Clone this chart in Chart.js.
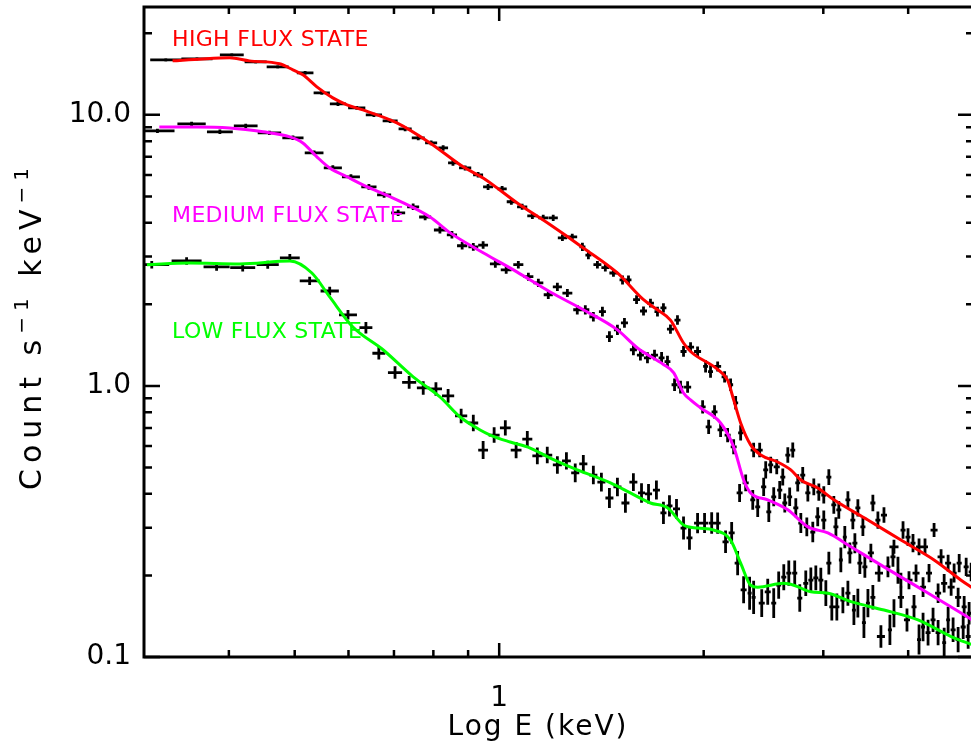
<!DOCTYPE html>
<html>
<head>
<meta charset="utf-8">
<style>
html, body { margin: 0; padding: 0; background: #fff; overflow: hidden; }
canvas { display: block; }
</style>
</head>
<body>
<canvas id="spec" width="978" height="749"></canvas>
<script src="https://cdn.jsdelivr.net/npm/chart.js"></script>
<script>
// data points (keV, count/s/keV)
const highE = [0.323,0.359,0.404,0.438,0.472,0.518,0.548,0.579,0.617,0.654,0.691,0.727,0.760,0.794,0.827,0.855,0.891,0.931,0.963,1.010,1.042,1.081,1.119,1.161,1.201,1.239,1.281,1.326,1.353,1.395,1.433,1.473,1.519,1.550,1.593,1.631,1.670,1.710,1.745,1.787,1.830,1.868,1.913,1.959,2.013,2.047,2.097,2.147,2.191,2.229,2.267,2.369,2.418,2.468,2.510,2.562,2.615,2.660,2.705,2.751,2.798,2.847,2.905,2.955,3.005,3.057,3.109,3.162,3.261,3.316,3.373,3.431,3.549,3.610,3.685,3.812,3.931,3.998,4.066,4.150,4.235,4.367,4.472,4.580,4.674,4.755,4.869,4.952];
const highC = [15.96,16.09,16.65,15.69,15.04,14.29,12.06,10.98,10.61,10.0,9.50,8.88,8.23,7.88,7.55,6.65,6.37,6.01,5.42,5.33,4.78,4.58,4.24,4.17,4.17,3.52,3.55,3.26,3.04,2.80,2.73,2.61,2.46,2.46,2.08,1.89,2.02,1.88,1.94,1.62,1.75,1.34,1.39,1.34,1.18,1.13,1.18,1.08,1.01,0.866,0.671,0.580,0.580,0.490,0.511,0.503,0.461,0.556,0.580,0.439,0.469,0.403,0.424,0.406,0.396,0.461,0.364,0.349,0.380,0.320,0.355,0.302,0.370,0.320,0.334,0.255,0.294,0.277,0.263,0.255,0.255,0.294,0.234,0.222,0.204,0.222,0.215,0.206];

const medE = [0.314,0.3525,0.388,0.4235,0.459,0.497,0.534,0.569,0.605,0.643,0.677,0.710,0.747,0.778,0.818,0.852,0.882,0.916,0.947,0.987,1.024,1.067,1.104,1.142,1.181,1.218,1.260,1.303,1.339,1.376,1.419,1.453,1.493,1.529,1.576,1.614,1.653,1.693,1.734,1.769,1.812,1.849,1.894,1.993,2.034,2.075,2.118,2.169,2.214,2.259,2.306,2.362,2.402,2.451,2.494,2.536,2.588,2.633,2.677,2.733,2.780,2.837,2.895,2.944,3.005,3.057,3.131,3.184,3.227,3.283,3.339,3.396,3.454,3.525,3.623,3.735,3.799,3.864,3.903,4.011,4.108,4.207,4.293,4.427,4.519,4.627,4.738,4.836,4.918];
const medC = [8.73,9.26,8.66,9.11,8.58,8.23,7.24,6.37,5.91,5.42,5.07,4.35,4.58,4.20,3.76,3.61,3.29,3.26,3.31,2.82,2.68,2.80,2.53,2.40,2.17,2.32,2.20,1.91,1.91,1.80,1.88,1.52,1.61,1.71,1.36,1.30,1.27,1.30,1.27,1.23,1.01,0.99,0.99,0.837,0.706,0.802,0.688,0.659,0.596,0.403,0.439,0.380,0.358,0.424,0.343,0.390,0.413,0.370,0.390,0.355,0.312,0.302,0.289,0.329,0.320,0.222,0.302,0.228,0.277,0.242,0.263,0.222,0.215,0.242,0.204,0.215,0.234,0.209,0.181,0.192,0.204,0.181,0.204,0.172,0.187,0.181,0.166,0.153,0.145];

const lowE = [0.308,0.3466,0.3837,0.4192,0.4563,0.4918,0.526,0.563,0.599,0.6365,0.665,0.7025,0.737,0.773,0.807,0.841,0.879,0.916,0.947,0.983,1.021,1.059,1.100,1.138,1.177,1.218,1.256,1.294,1.330,1.376,1.414,1.453,1.493,1.534,1.576,1.620,1.659,1.704,1.745,1.781,1.824,1.868,1.906,1.959,2.006,2.055,2.097,2.154,2.199,2.244,2.290,2.337,2.369,2.435,2.485,2.536,2.579,2.624,2.669,2.723,2.770,2.827,2.876,2.925,2.975,3.026,3.088,3.141,3.206,3.261,3.328,3.373,3.443,3.490,3.549,3.647,3.760,3.812,3.903,3.984,4.080,4.150,4.207,4.279,4.352,4.427,4.519,4.580,4.658,4.738,4.820,4.902];
const lowC = [2.80,2.89,2.75,2.73,2.80,2.97,2.44,2.24,1.83,1.64,1.32,1.12,1.03,0.983,0.975,0.919,0.775,0.730,0.580,0.659,0.700,0.580,0.637,0.552,0.556,0.511,0.529,0.478,0.516,0.469,0.442,0.386,0.424,0.370,0.442,0.403,0.400,0.413,0.340,0.361,0.352,0.299,0.275,0.312,0.312,0.312,0.312,0.266,0.287,0.222,0.177,0.172,0.166,0.158,0.174,0.158,0.184,0.197,0.204,0.204,0.165,0.187,0.192,0.196,0.192,0.172,0.153,0.153,0.162,0.172,0.149,0.158,0.134,0.158,0.166,0.119,0.126,0.145,0.166,0.137,0.153,0.116,0.129,0.123,0.137,0.123,0.113,0.137,0.126,0.116,0.129,0.119];

// model curves
const highModelE = [0.3305,0.366,0.401,0.429,0.475,0.497,0.514,0.539,0.569,0.597,0.630,0.707,0.791,0.885,0.947,1.063,1.189,1.330,1.493,1.631,1.710,1.787,1.868,1.913,2.097,2.169,2.214,2.267,2.345,2.427,2.570,2.687,2.780,2.944,3.109,3.490,3.903,4.367,4.786,4.970];
const highModelC = [15.82,16.09,16.23,15.82,15.43,14.66,14.05,12.69,11.55,10.89,10.43,9.34,7.88,6.43,5.85,4.73,3.93,3.23,2.61,2.08,1.91,1.75,1.44,1.34,1.15,1.05,0.888,0.730,0.606,0.556,0.524,0.490,0.450,0.420,0.380,0.320,0.270,0.228,0.192,0.180];
const medModelE = [0.316,0.359,0.401,0.449,0.492,0.514,0.539,0.563,0.597,0.630,0.707,0.791,0.847,0.947,1.063,1.189,1.330,1.493,1.598,1.745,1.806,1.868,1.913,1.980,2.118,2.214,2.290,2.345,2.485,2.660,2.847,3.047,3.294,3.685,4.136,4.627,4.970];
const medModelC = [9.03,9.03,8.95,8.66,8.30,7.88,7.00,6.37,5.91,5.52,4.86,4.20,3.67,3.10,2.63,2.22,1.91,1.61,1.38,1.20,1.12,0.942,0.888,0.829,0.730,0.596,0.450,0.403,0.380,0.349,0.302,0.287,0.255,0.215,0.181,0.153,0.137];
const lowModelE = [0.303,0.350,0.415,0.492,0.530,0.563,0.609,0.6745,0.747,0.818,0.876,0.9375,0.970,1.038,1.111,1.189,1.303,1.458,1.560,1.670,1.769,1.868,1.959,2.068,2.191,2.267,2.345,2.402,2.624,2.714,2.876,3.047,3.294,3.685,4.136,4.627,4.970];
const lowModelC = [2.80,2.84,2.82,2.89,2.61,2.13,1.65,1.36,1.08,0.911,0.768,0.688,0.659,0.621,0.590,0.542,0.490,0.439,0.403,0.370,0.355,0.307,0.299,0.294,0.270,0.222,0.184,0.181,0.187,0.184,0.174,0.172,0.160,0.149,0.137,0.119,0.111];

// axis ticks
const xLabelTicks = [1];
const xMinorTicks = [0.4,0.5,0.6,0.7,0.8,0.9,2,3,4];
const yLabelTicks = [0.1,1,10];
const yMinorTicks = [0.2,0.3,0.4,0.5,0.6,0.7,0.8,0.9,2,3,4,5,6,7,8,9,20];

const stateLabels = ['HIGH FLUX STATE', 'MEDIUM FLUX STATE', 'LOW FLUX STATE'];
const stateColors = ['#ff0000', '#ff00ff', '#00ff00'];
const stateLabelC = [18.9, 4.24, 1.58];
const stateLabelE = 0.33;

const FONT = 'DejaVu Sans';

const pair = (E, C) => E.map((e, i) => ({x: e, y: C[i]}));

// points with error bar ends; x bins from neighbour spacing
function withErrors(E, C) {
  return E.map((e, i) => {
    const le = Math.log10(e);
    const gl = i > 0 ? le - Math.log10(E[i - 1]) : Infinity;
    const gr = i < E.length - 1 ? Math.log10(E[i + 1]) - le : Infinity;
    const h = Math.min(gl, gr) / 2;
    const lo = e * Math.pow(10, -h), hi = e * Math.pow(10, h);
    const dy = 0.0045 / Math.sqrt(C[i] * (hi - lo));
    return {x: e, y: C[i], xMin: lo, xMax: hi, yMin: C[i] * Math.pow(10, -dy), yMax: C[i] * Math.pow(10, dy)};
  });
}

const dataset = (E, C) => ({data: withErrors(E, C), errorBars: true, pointRadius: 0, showLine: false});
const model = (E, C, color) => ({
  data: pair(E, C), showLine: true, borderColor: color, borderWidth: 3,
  pointRadius: 0, cubicInterpolationMode: 'monotone', fill: false
});

const framePlugin = {
  id: 'framePlugin',
  beforeDatasetsDraw(chart) {
    const {ctx, chartArea: a, scales: {x, y}} = chart;
    ctx.save();
    ctx.beginPath();
    ctx.rect(a.left, a.top, a.right - a.left, a.bottom - a.top);
    ctx.clip();
    ctx.strokeStyle = '#000';
    ctx.lineWidth = 2.8;
    ctx.beginPath();
    chart.data.datasets.forEach(ds => {
      if (!ds.errorBars) return;
      ds.data.forEach(p => {
        const px = x.getPixelForValue(p.x), py = y.getPixelForValue(p.y);
        ctx.moveTo(x.getPixelForValue(p.xMin), py);
        ctx.lineTo(x.getPixelForValue(p.xMax), py);
        ctx.moveTo(px, y.getPixelForValue(p.yMin));
        ctx.lineTo(px, y.getPixelForValue(p.yMax));
      });
    });
    ctx.stroke();
    ctx.restore();
  },
  afterDraw(chart) {
    const {ctx, chartArea: a, scales: {x, y}} = chart;
    ctx.save();
    ctx.strokeStyle = '#000';
    ctx.lineWidth = 2.5;
    ctx.beginPath();
    const xt = (v, len) => {
      const p = x.getPixelForValue(v);
      ctx.moveTo(p, a.bottom); ctx.lineTo(p, a.bottom - len);
      ctx.moveTo(p, a.top); ctx.lineTo(p, a.top + len);
    };
    const yt = (v, len) => {
      const p = y.getPixelForValue(v);
      ctx.moveTo(a.left, p); ctx.lineTo(a.left + len, p);
      ctx.moveTo(a.right, p); ctx.lineTo(a.right - len, p);
    };
    xLabelTicks.forEach(v => xt(v, 14));
    xMinorTicks.forEach(v => xt(v, 7));
    yLabelTicks.forEach(v => yt(v, 16));
    yMinorTicks.forEach(v => yt(v, 8));
    ctx.stroke();
    ctx.lineWidth = 3;
    ctx.strokeRect(a.left, a.top, a.right - a.left, a.bottom - a.top);

    // state labels
    ctx.font = '22px "' + FONT + '"';
    ctx.letterSpacing = '0.3px';
    ctx.textBaseline = 'middle';
    ctx.textAlign = 'left';
    stateLabels.forEach((t, i) => {
      ctx.fillStyle = stateColors[i];
      ctx.fillText(t, x.getPixelForValue(stateLabelE), y.getPixelForValue(stateLabelC[i]));
    });

    // axis titles
    ctx.fillStyle = '#000';
    ctx.letterSpacing = '2px';
    ctx.font = '28px "' + FONT + '"';
    ctx.textAlign = 'center';
    ctx.textBaseline = 'alphabetic';
    ctx.fillText('Log E (keV)', 538, 735);

    ctx.letterSpacing = '6px';
    const parts = [['Count s', 30, 0], ['\u22121', 20, -13], [' keV', 30, 0], ['\u22121', 20, -13]];
    let total = 0;
    parts.forEach(p => { ctx.font = p[1] + 'px "' + FONT + '"'; p.push(ctx.measureText(p[0]).width); total += p[3]; });
    ctx.translate(41, (a.top + a.bottom) / 2 - 6);
    ctx.rotate(-Math.PI / 2);
    ctx.textAlign = 'left';
    let cx = -total / 2;
    parts.forEach(p => {
      ctx.font = p[1] + 'px "' + FONT + '"';
      ctx.fillText(p[0], cx, p[2]);
      cx += p[3];
    });
    ctx.restore();
  }
};

new Chart(document.getElementById('spec').getContext('2d'), {
  type: 'scatter',
  data: {
    datasets: [
      dataset(highE, highC),
      dataset(medE, medC),
      dataset(lowE, lowC),
      model(highModelE, highModelC, stateColors[0]),
      model(medModelE, medModelC, stateColors[1]),
      model(lowModelE, lowModelC, stateColors[2])
    ]
  },
  options: {
    responsive: false,
    animation: false,
    layout: {autoPadding: false, padding: {top: 7, right: 4, left: 0, bottom: 0}},
    plugins: {legend: {display: false}, tooltip: {enabled: false}},
    scales: {
      x: {
        type: 'logarithmic', min: 0.3, max: 5, bounds: 'data',
        grid: {display: false, drawTicks: false},
        border: {display: false},
        afterBuildTicks: s => { s.ticks = xLabelTicks.map(v => ({value: v})); },
        afterFit: s => { s.height = 92; s.paddingLeft = 0; s.paddingRight = 0; },
        ticks: {color: '#000', font: {family: FONT, size: 28}, padding: 25, maxRotation: 0, autoSkip: false,
                callback: v => String(v)}
      },
      y: {
        type: 'logarithmic', min: 0.1, max: 25, bounds: 'data',
        grid: {display: false, drawTicks: false},
        border: {display: false},
        afterBuildTicks: s => { s.ticks = yLabelTicks.map(v => ({value: v})); },
        afterFit: s => { s.width = 144; s.paddingTop = 0; s.paddingBottom = 0; },
        ticks: {color: '#000', font: {family: FONT, size: 28}, padding: 13, autoSkip: false,
                callback: v => Number(v).toFixed(1)}
      }
    }
  },
  plugins: [framePlugin]
});
</script>
</body>
</html>
